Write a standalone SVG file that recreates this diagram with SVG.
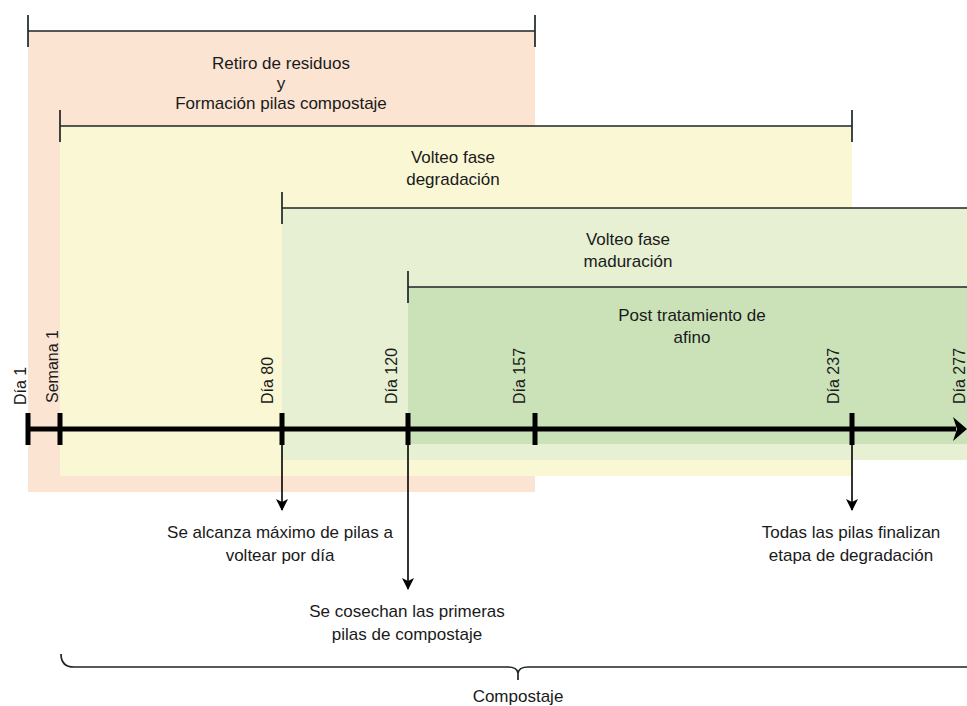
<svg xmlns="http://www.w3.org/2000/svg" width="967" height="706" viewBox="0 0 967 706">
  <defs>
    <style>
      .txt { font-family: "Liberation Sans", Arial, sans-serif; font-size: 17px; fill: #1a1a1a; text-anchor: middle; }
      .day { font-family: "Liberation Sans", Arial, sans-serif; font-size: 16px; fill: #1a1a1a; text-anchor: start; }
      .bar { stroke: #1e2626; stroke-width: 1.7; fill: none; }
      .tick { stroke: #000; stroke-width: 5; }
      .axis { stroke: #000; stroke-width: 5; fill: none; }
      .conn { stroke: #000; stroke-width: 1.6; fill: none; }
    </style>
    <marker id="ah" viewBox="0 0 12 12" refX="11" refY="6" markerWidth="12" markerHeight="12" markerUnits="userSpaceOnUse" orient="auto">
      <path d="M0,0 L12,6 L0,12 L3,6 Z" fill="#000"/>
    </marker>
  </defs>
  <rect width="967" height="706" fill="#ffffff"/>

  <g id="phase-retiro">
    <rect x="28" y="31" width="507" height="461" fill="#fce4d3"/>
    <path class="bar" d="M28,31 H535 M28,15 V47 M535,15 V47"/>
    <text class="txt" x="281" y="69">Retiro de residuos</text>
    <text class="txt" x="281" y="89">y</text>
    <text class="txt" x="281" y="109">Formación pilas compostaje</text>
  </g>

  <g id="phase-degradacion">
    <rect x="60" y="126" width="792" height="350" fill="#faf7d5"/>
    <path class="bar" d="M60,126 H852 M60,110 V142 M852,110 V142"/>
    <text class="txt" x="453" y="163">Volteo fase</text>
    <text class="txt" x="453" y="185">degradación</text>
  </g>

  <g id="phase-maduracion">
    <rect x="282" y="208" width="685" height="252" fill="#e7f0d2"/>
    <path class="bar" d="M282,208 H967 M282,192 V224"/>
    <text class="txt" x="628" y="245">Volteo fase</text>
    <text class="txt" x="628" y="267">maduración</text>
  </g>

  <g id="phase-afino">
    <rect x="408" y="287" width="559" height="157" fill="#cbe2b9"/>
    <path class="bar" d="M408,287 H967 M408,271 V303"/>
    <text class="txt" x="692" y="321">Post tratamiento de</text>
    <text class="txt" x="692" y="343">afino</text>
  </g>

  <g id="timeline">
    <line class="axis" x1="28" y1="429" x2="956" y2="429"/>
    <path d="M953,417 L967,429 L953,441 L957,429 Z" fill="#000"/>
    <line class="tick" x1="28" y1="413" x2="28" y2="445"/>
    <line class="tick" x1="60" y1="413" x2="60" y2="445"/>
    <line class="tick" x1="282" y1="413" x2="282" y2="445"/>
    <line class="tick" x1="408" y1="413" x2="408" y2="445"/>
    <line class="tick" x1="535" y1="413" x2="535" y2="445"/>
    <line class="tick" x1="852" y1="413" x2="852" y2="445"/>
  </g>

  <g id="day-labels">
    <text class="day" transform="translate(26,405) rotate(-90)">Día 1</text>
    <text class="day" transform="translate(58,403) rotate(-90)">Semana 1</text>
    <text class="day" transform="translate(273,404) rotate(-90)">Día 80</text>
    <text class="day" transform="translate(397,404) rotate(-90)">Día 120</text>
    <text class="day" transform="translate(525,404) rotate(-90)">Día 157</text>
    <text class="day" transform="translate(839,404) rotate(-90)">Día 237</text>
    <text class="day" transform="translate(965,404) rotate(-90)">Día 277</text>
  </g>

  <g id="connectors">
    <line class="conn" x1="282" y1="429" x2="282" y2="510" marker-end="url(#ah)"/>
    <line class="conn" x1="408" y1="429" x2="408" y2="589" marker-end="url(#ah)"/>
    <line class="conn" x1="852" y1="429" x2="852" y2="510" marker-end="url(#ah)"/>
    <path class="bar" d="M61,654 Q61,667 74,667 H508 Q517,667 518,673 V680 M518,673 Q519,667 528,667 H967"/>
  </g>

  <g id="note-dia80">
    <text class="txt" x="280" y="538">Se alcanza máximo de pilas a</text>
    <text class="txt" x="280" y="561">voltear por día</text>
  </g>
  <g id="note-dia120">
    <text class="txt" x="407" y="617">Se cosechan las primeras</text>
    <text class="txt" x="407" y="640">pilas de compostaje</text>
  </g>
  <g id="note-dia237">
    <text class="txt" x="851" y="538">Todas las pilas finalizan</text>
    <text class="txt" x="851" y="561">etapa de degradación</text>
  </g>
  <g id="compostaje">
    <text class="txt" x="518" y="702">Compostaje</text>
  </g>
</svg>
